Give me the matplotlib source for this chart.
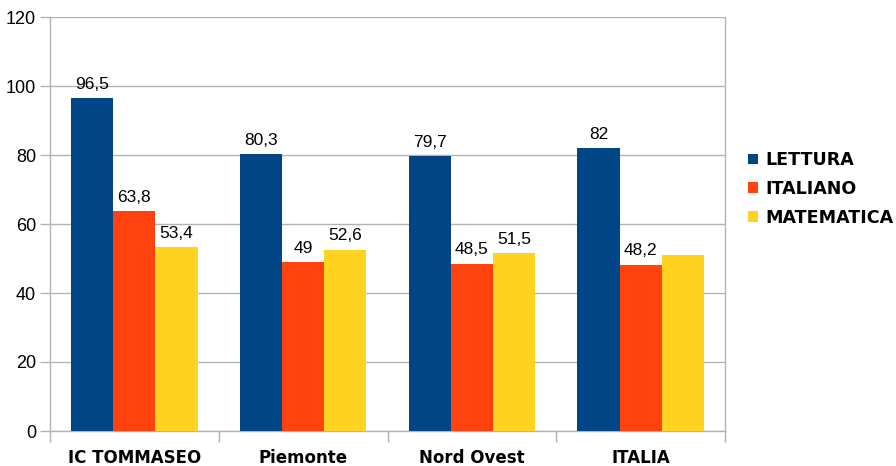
import matplotlib
matplotlib.use("Agg")
import matplotlib.pyplot as plt
import numpy as np

categories = ["IC TOMMASEO", "Piemonte", "Nord Ovest", "ITALIA"]
series_names = ["LETTURA", "ITALIANO", "MATEMATICA"]
lettura = [96.5, 80.3, 79.7, 82]
italiano = [63.8, 49, 48.5, 48.2]
matematica = [53.4, 52.6, 51.5, 51]
labels_lettura = ["96,5", "80,3", "79,7", "82"]
labels_italiano = ["63,8", "49", "48,5", "48,2"]
labels_matematica = ["53,4", "52,6", "51,5", ""]
colors = ["#004586", "#ff420e", "#ffd320"]

plt.rcParams['font.family'] = ['Liberation Sans', 'DejaVu Sans']

fig = plt.figure(figsize=(8.96, 4.66), dpi=100)
ax = fig.add_axes([50/896, 35/466, (725-50)/896, (431-17)/466])

x = np.arange(len(categories))
w = 0.25
grid_c = "#b3b3b3"
series = [lettura, italiano, matematica]
labels = [labels_lettura, labels_italiano, labels_matematica]
for i, (vals, labs, c, name) in enumerate(zip(series, labels, colors, series_names)):
    bars = ax.bar(x + (i - 1) * w, vals, width=w, color=c, label=name, zorder=3)
    ax.bar_label(bars, labels=labs, padding=4.5, fontsize=12.5, color="#000000")

ax.set_xlim(-0.5, len(categories) - 0.5)
ax.set_ylim(0, 120)
ax.set_yticks(np.arange(0, 121, 20))
ax.yaxis.grid(True, color=grid_c, linewidth=1, zorder=0)
ax.set_axisbelow(True)

ax.set_xticks(x)
ax.set_xticklabels(categories, fontsize=12, fontweight="bold", family="DejaVu Sans")
ax.tick_params(axis="x", length=0, pad=13)
ax.set_xticks(np.arange(-0.5, len(categories)), minor=True)
ax.tick_params(axis="x", which="minor", length=8, color=grid_c, width=1)
ax.tick_params(axis="y", length=7, color=grid_c, width=1, labelsize=13, pad=3)

ax.spines["top"].set_visible(False)
for s in ["left", "right", "bottom"]:
    ax.spines[s].set_color(grid_c)
    ax.spines[s].set_linewidth(1)

leg = ax.legend(loc="center left", bbox_to_anchor=(739/896, 1 - 189/466),
                bbox_transform=fig.transFigure, frameon=False, borderpad=0,
                prop={"weight": "bold", "size": 12.6, "family": "DejaVu Sans"},
                handlelength=0.58, handleheight=0.58, handletextpad=0.4,
                labelspacing=0.62)

fig.savefig("out.png", dpi=100)
